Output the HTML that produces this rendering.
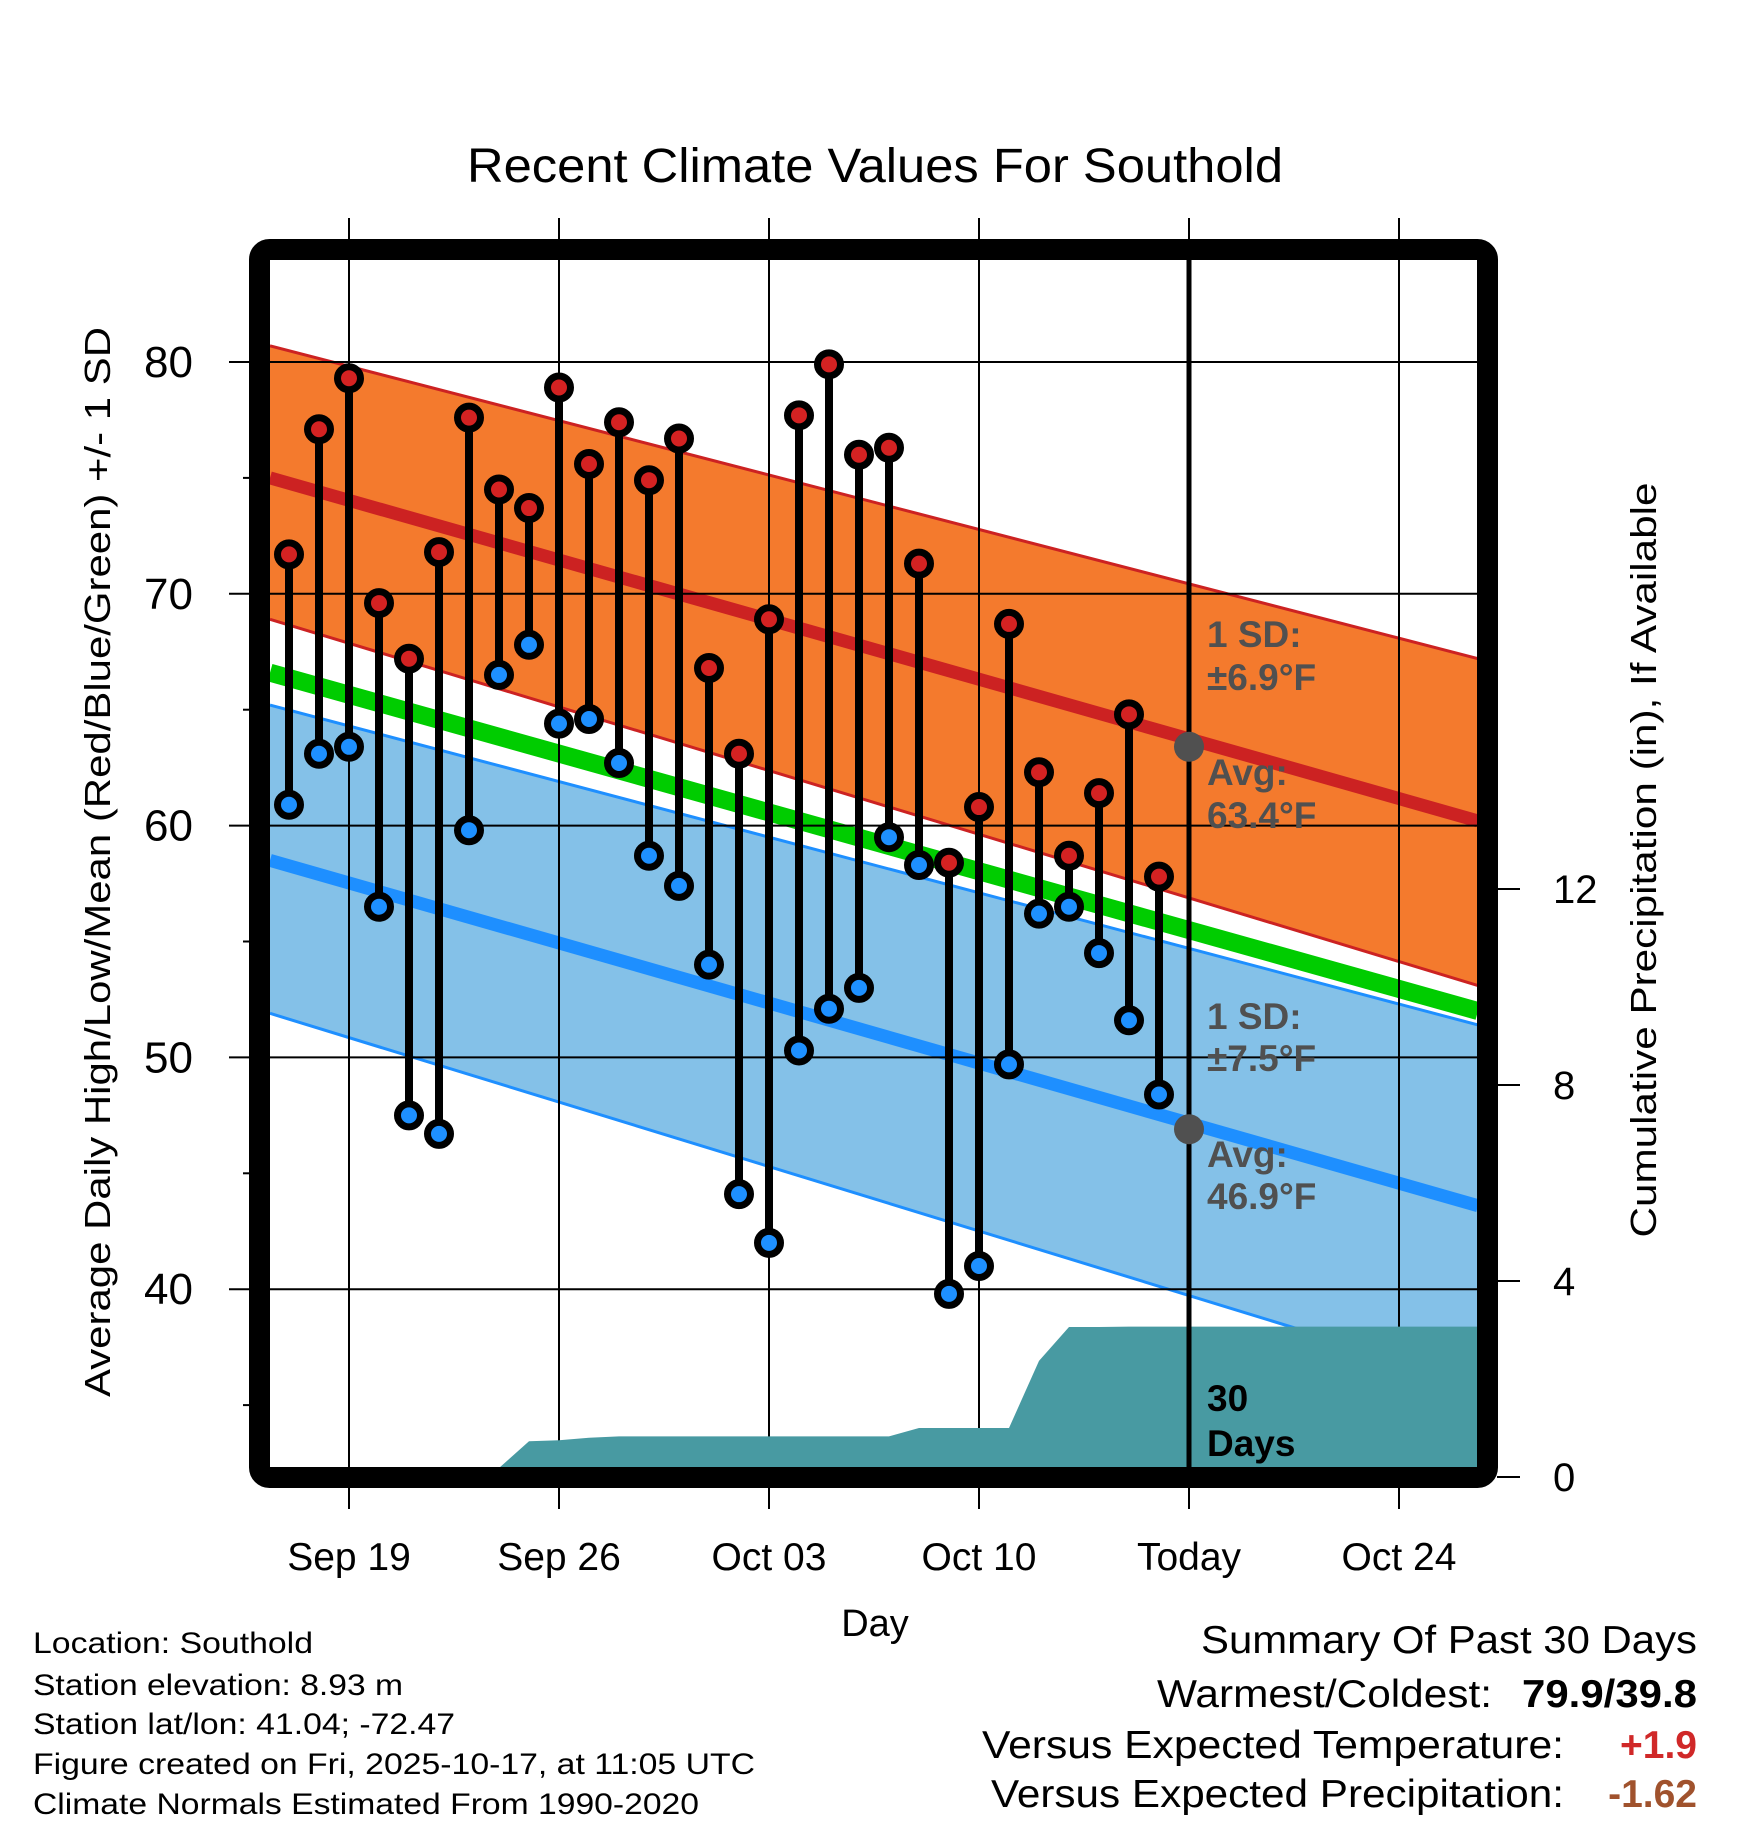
<!DOCTYPE html>
<html><head><meta charset="utf-8"><style>
html,body{margin:0;padding:0;background:#fff}
svg{display:block;font-family:"Liberation Sans",Arial,sans-serif}
</style></head><body>
<svg id="chart" width="1748" height="1828" viewBox="0 0 1748 1828" xmlns="http://www.w3.org/2000/svg">
<defs><clipPath id="plotclip"><rect x="270" y="260" width="1208" height="1208"/></clipPath></defs>
<rect width="1748" height="1828" fill="#fff"/>
<text x="875" y="182" font-size="48" text-anchor="middle" textLength="816" lengthAdjust="spacingAndGlyphs">Recent Climate Values For Southold</text>
<g id="bands" clip-path="url(#plotclip)"></g>
<g id="grid"></g>
<g id="precip" clip-path="url(#plotclip)"></g>
<g id="marks"></g>
<g id="annot"></g>
<rect x="259.5" y="249.5" width="1228" height="1228" rx="10" fill="none" stroke="#000" stroke-width="21"/>
<g id="axes"></g>
<text transform="translate(110,862) rotate(-90)" font-size="36" text-anchor="middle" textLength="1070" lengthAdjust="spacingAndGlyphs">Average Daily High/Low/Mean (Red/Blue/Green) +/- 1 SD</text>
<text transform="translate(1656,860) rotate(-90)" font-size="36" text-anchor="middle" textLength="755" lengthAdjust="spacingAndGlyphs">Cumulative Precipitation (in), If Available</text>
<text x="875" y="1636" font-size="38" text-anchor="middle">Day</text>
<g font-size="30">
<text x="33" y="1653" textLength="280" lengthAdjust="spacingAndGlyphs">Location: Southold</text>
<text x="33" y="1695" textLength="370" lengthAdjust="spacingAndGlyphs">Station elevation: 8.93 m</text>
<text x="33" y="1734" textLength="422" lengthAdjust="spacingAndGlyphs">Station lat/lon: 41.04; -72.47</text>
<text x="33" y="1774" textLength="722" lengthAdjust="spacingAndGlyphs">Figure created on Fri, 2025-10-17, at 11:05 UTC</text>
<text x="33" y="1814" textLength="666" lengthAdjust="spacingAndGlyphs">Climate Normals Estimated From 1990-2020</text>
</g>
<g font-size="39" text-anchor="end">
<text x="1697" y="1653" textLength="496" lengthAdjust="spacingAndGlyphs">Summary Of Past 30 Days</text>
<text x="1492" y="1707" textLength="335" lengthAdjust="spacingAndGlyphs">Warmest/Coldest:</text>
<text x="1697" y="1707" font-weight="bold" textLength="175" lengthAdjust="spacingAndGlyphs">79.9/39.8</text>
<text x="1564" y="1758" textLength="582" lengthAdjust="spacingAndGlyphs">Versus Expected Temperature:</text>
<text x="1697" y="1758" font-weight="bold" fill="#D02828">+1.9</text>
<text x="1564" y="1807" textLength="573" lengthAdjust="spacingAndGlyphs">Versus Expected Precipitation:</text>
<text x="1697" y="1807" font-weight="bold" fill="#A0522D">-1.62</text>
</g>
</svg>
<script>
// ---- data ----
const days = ["Sep17","Sep18","Sep19","Sep20","Sep21","Sep22","Sep23","Sep24","Sep25","Sep26","Sep27","Sep28","Sep29","Sep30","Oct01","Oct02","Oct03","Oct04","Oct05","Oct06","Oct07","Oct08","Oct09","Oct10","Oct11","Oct12","Oct13","Oct14","Oct15","Oct16"];
const highs = [71.7,77.1,79.3,69.6,67.2,71.8,77.6,74.5,73.7,78.9,75.6,77.4,74.9,76.7,66.8,63.1,68.9,77.7,79.9,76.0,76.3,71.3,58.4,60.8,68.7,62.3,58.7,61.4,64.8,57.8];
const lows  = [60.9,63.1,63.4,56.5,47.5,46.7,59.8,66.5,67.8,64.4,64.6,62.7,58.7,57.4,54.0,44.1,42.0,50.3,52.1,53.0,59.5,58.3,39.8,41.0,49.7,56.2,56.5,54.5,51.6,48.4];
const precip = [0,0,0,0,0,0,0,0,0.73,0.75,0.8,0.83,0.83,0.83,0.83,0.83,0.83,0.83,0.83,0.83,0.83,1.0,1.0,1.0,1.0,2.37,3.06,3.06,3.07,3.07];
// normals at the left and right edges of the plot
const highUpper = [80.7,67.2];
const highAvg   = [75.0,60.2];
const highLower = [68.9,53.1];
const meanNorm  = [66.6,52.0];
const lowUpper  = [65.2,51.4];
const lowAvg    = [58.5,43.6];
const lowLower  = [51.9,35.9];
const tempTicks = [40,50,60,70,80];
const minorTicks = [35,45,55,65,75];
const precipTicks = [0,4,8,12];
const xTickDays = [0,7,14,21,28,35];
const xTickLabels = ["Sep 19","Sep 26","Oct 03","Oct 10","Today","Oct 24"];
const todayIndex = 28;
const todayHigh = 63.4, todayLow = 46.9;

// ---- scales ----
const X0=349, DAYPX=30, PL=270, PR=1478, PT=260, PB=1468;
const dayMin=(PL-X0)/DAYPX, dayMax=(PR-X0)/DAYPX;
const xS = d => X0 + d*DAYPX;           // d = days from Sep 19
const yS = v => 362 + (80 - v)*23.18;   // temperature
const pS = v => 1477 - v*49;            // precipitation inches
const NS='http://www.w3.org/2000/svg';
function mk(tag, parent, attrs){const e=document.createElementNS(NS,tag);for(const k in attrs)e.setAttribute(k,attrs[k]);parent.appendChild(e);return e;}
const G=id=>document.getElementById(id);
const lineY=(arr,d)=>arr[0]+(arr[1]-arr[0])*(d-dayMin)/(dayMax-dayMin);

// ---- bands ----
const bands=G('bands');
function band(up,lo,fill,name){
  const e=mk('polygon',bands,{points:`${PL},${yS(up[0])} ${PR},${yS(up[1])} ${PR},${yS(lo[1])} ${PL},${yS(lo[0])}`,fill:fill});
  
  
}
function nline(arr,col,w,name){
  const e=mk('line',bands,{x1:PL,y1:yS(arr[0]),x2:PR,y2:yS(arr[1]),stroke:col,'stroke-width':w});
  
  
}
band(lowUpper,lowLower,'#84C1E8','low-sd-band');
nline(lowUpper,'#1E8FFF',3,'low-upper-line');
nline(lowLower,'#1E8FFF',3,'low-lower-line');
nline(lowAvg,'#1E8FFF',13,'low-avg-line');
nline(meanNorm,'#00CC00',18,'mean-normal-line');
band(highUpper,highLower,'#F47A2D','high-sd-band');
nline(highUpper,'#CC2222',3,'high-upper-line');
nline(highLower,'#CC2222',3,'high-lower-line');
nline(highAvg,'#CC2222',13,'high-avg-line');

// ---- precip ----
let pts=[];
const firstD=-2;
pts.push(`${xS(firstD)},${PB}`);
precip.forEach((v,i)=>pts.push(`${xS(firstD+i)},${Math.min(pS(v),PB)}`));
pts.push(`${PR},${Math.min(pS(precip[precip.length-1]),PB)}`);
pts.push(`${PR},${PB}`);
const pa=mk('polygon',G('precip'),{points:pts.join(' '),fill:'#489AA2'});



// ---- grid ----
const grid=G('grid');
tempTicks.forEach(t=>{
  const e=mk('line',grid,{x1:229,x2:PR,y1:yS(t),y2:yS(t),stroke:'#000','stroke-width':2});
  
  
});
xTickDays.forEach((d,i)=>{
  const e=mk('line',grid,{x1:xS(d),x2:xS(d),y1:218,y2:1509,stroke:'#000','stroke-width':2});
  
  
});

// ---- marks ----
const marks=G('marks');
days.forEach((d,i)=>{
  const x=xS(firstD+i);
  const s=mk('line',marks,{x1:x,x2:x,y1:yS(highs[i]),y2:yS(lows[i]),stroke:'#000','stroke-width':8});
  
  
});
days.forEach((d,i)=>{
  const x=xS(firstD+i);
  const h=mk('circle',marks,{cx:x,cy:yS(highs[i]),r:11.5,fill:'#D42222',stroke:'#000','stroke-width':7});
  
  
  const l=mk('circle',marks,{cx:x,cy:yS(lows[i]),r:11.5,fill:'#1E90FF',stroke:'#000','stroke-width':7});
  
  
});
// today line
const tl=mk('line',marks,{x1:xS(todayIndex),x2:xS(todayIndex),y1:PT,y2:PB,stroke:'#000','stroke-width':5});


const c1=mk('circle',marks,{cx:xS(todayIndex),cy:yS(todayHigh),r:15,fill:'#505050'});


const c2=mk('circle',marks,{cx:xS(todayIndex),cy:yS(todayLow),r:15,fill:'#505050'});



// ---- annotations ----
const an=G('annot');
const ax=1207;
[["1 SD:",647,'#505050','high-sd-label'],["±6.9°F",690,'#505050','high-sd-value'],["Avg:",785,'#505050','high-avg-label'],["63.4°F",828,'#505050','high-avg-value'],
 ["1 SD:",1029,'#505050','low-sd-label'],["±7.5°F",1071,'#505050','low-sd-value'],["Avg:",1167,'#505050','low-avg-label'],["46.9°F",1209,'#505050','low-avg-value'],
 ["30",1411,'#000','days-count'],["Days",1456,'#000','days-label']].forEach(a=>{
  const t=mk('text',an,{x:ax,y:a[1],'font-size':37,'font-weight':'bold',fill:a[2]});
  t.textContent=a[0];
  
  
});

// ---- axes ----
const axes=G('axes');
tempTicks.forEach(t=>{
  const e=mk('text',axes,{x:193,y:yS(t)+15,'font-size':44,'text-anchor':'end'});
  e.textContent=t;
  
  
});
minorTicks.forEach(t=>{
  const e=mk('line',axes,{x1:243,x2:250,y1:yS(t),y2:yS(t),stroke:'#000','stroke-width':2});
  
  
});
precipTicks.forEach(t=>{
  const e=mk('line',axes,{x1:1497,x2:1520,y1:pS(t),y2:pS(t),stroke:'#000','stroke-width':2});
  
  
  const l=mk('text',axes,{x:1553,y:pS(t)+14,'font-size':40});
  l.textContent=t;
  
  
});
xTickDays.forEach((d,i)=>{
  const e=mk('text',axes,{x:xS(d),y:1570,'font-size':39,'text-anchor':'middle'});
  e.textContent=xTickLabels[i];
  
  
});
</script>
</body></html>
